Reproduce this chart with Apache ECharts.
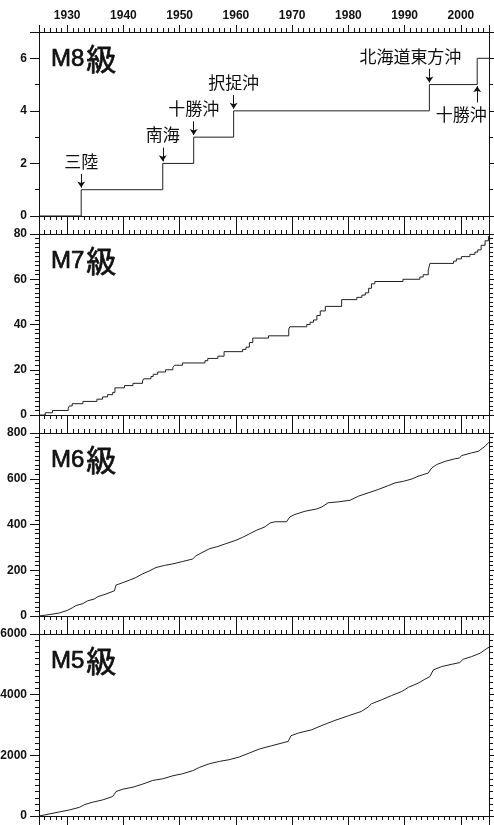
<!DOCTYPE html>
<html>
<head>
<meta charset="utf-8">
<script src="https://cdn.jsdelivr.net/npm/echarts@6/dist/echarts.min.js"></script>
<style>
html, body { margin: 0; background: #fff; }
#chart { width: 494px; height: 825px; }
</style>
</head>
<body>
<div id="chart"></div>
<script>
// year range of the x axis
const yearMin = 1925;
const yearMax = 2005;

// cumulative counts, [year, count]
const m8Steps = [[1925, 0], [1932.5, 1], [1947.0, 2], [1952.5, 3], [1959.6, 4], [1994.4, 5], [2002.9, 6], [2005, 6]];
const m7Steps = [
  [1925, 0], [1926.1, 1], [1927.4, 2], [1930.2, 3], [1930.4, 4], [1930.9, 5], [1932.8, 6], [1935.3, 7],
  [1936.3, 8], [1937.2, 9], [1938.1, 10], [1938.5, 12], [1940.2, 13], [1941.7, 14], [1943.4, 15], [1943.6, 16],
  [1944.9, 17], [1945.3, 18], [1946.1, 19], [1947.5, 20], [1948.8, 21], [1949.1, 22], [1950.5, 23], [1954.5, 24],
  [1955.0, 25], [1956.8, 26], [1957.9, 28], [1961.2, 29], [1961.8, 30], [1962.4, 32], [1963.0, 34], [1965.8, 35],
  [1969.4, 38], [1969.6, 39], [1972.6, 40], [1973.2, 41], [1973.8, 42], [1974.4, 44], [1975.0, 46], [1975.9, 48],
  [1978.8, 51], [1981.5, 52], [1982.4, 53], [1983.0, 54], [1983.6, 56], [1984.1, 58], [1984.7, 59], [1989.7, 60],
  [1992.7, 61], [1993.3, 62], [1994.2, 64], [1994.5, 67], [1998.7, 68], [1999.2, 69], [2000.1, 70], [2001.6, 71],
  [2002.5, 72], [2003.0, 73], [2003.6, 75], [2004.3, 77], [2004.9, 79], [2005, 79]
];
const m6Curve = [
  [1925, 0], [1926.8, 6], [1928.6, 13], [1930.1, 25], [1931.0, 37], [1931.6, 46], [1932.8, 54], [1933.6, 66],
  [1934.8, 74], [1935.4, 84], [1936.9, 96], [1938.4, 110], [1938.7, 135], [1939.9, 146], [1941.1, 157], [1942.2, 168],
  [1943.4, 184], [1944.6, 197], [1945.8, 212], [1947.3, 221], [1948.8, 228], [1950.5, 238], [1952.3, 249], [1952.9, 263],
  [1953.8, 275], [1955.3, 294], [1956.8, 304], [1958.2, 316], [1960.0, 331], [1961.2, 344], [1962.4, 359], [1963.6, 374],
  [1965.2, 390], [1966.1, 407], [1967.0, 412], [1969.0, 412], [1969.6, 433], [1970.5, 444], [1972.3, 458], [1974.4, 468],
  [1975.3, 477], [1976.4, 495], [1978.2, 499], [1980.3, 506], [1981.8, 524], [1983.5, 538], [1985.3, 553], [1987.1, 570],
  [1988.3, 582], [1989.8, 589], [1991.3, 599], [1992.4, 611], [1994.2, 625], [1994.8, 647], [1995.7, 662], [1997.2, 676],
  [1998.9, 687], [1999.8, 691], [2000.1, 701], [2001.9, 713], [2003.1, 720], [2004.3, 742], [2005, 760]
];
const m5Curve = [
  [1925, 0], [1926.8, 66], [1928.6, 133], [1930.4, 199], [1932.2, 287], [1933.1, 376], [1934.5, 453], [1936.3, 530],
  [1938.1, 641], [1938.7, 807], [1939.9, 884], [1941.7, 950], [1943.4, 1050], [1945.2, 1171], [1947.0, 1227], [1948.8, 1326],
  [1950.5, 1392], [1952.3, 1492], [1953.5, 1602], [1955.3, 1724], [1957.1, 1801], [1958.8, 1856], [1960.6, 1945], [1962.4, 2077],
  [1964.2, 2210], [1966.4, 2318], [1969.3, 2460], [1969.8, 2647], [1971.1, 2734], [1973.5, 2844], [1975.3, 2986], [1977.6, 3151],
  [1980.0, 3304], [1982.3, 3447], [1983.5, 3589], [1984.1, 3699], [1985.9, 3830], [1987.7, 3973], [1989.5, 4104], [1990.7, 4247],
  [1992.4, 4378], [1993.6, 4510], [1994.5, 4597], [1995.1, 4817], [1996.6, 4926], [1998.4, 5003], [1999.8, 5058], [2000.4, 5167],
  [2001.9, 5255], [2003.4, 5365], [2005, 5570]
];

// M8 events named in the top panel
const quakeNames = ['三陸', '南海', '十勝沖', '択捉沖', '北海道東方沖', '十勝沖'];
const quakeYears = [1932.5, 1947.0, 1952.5, 1959.6, 1994.4, 2002.9];
const quakeLevels = [1, 2, 3, 4, 5, 5];
const quakeBelow = [false, false, false, false, false, true];

// panels
const panelNames = ['M8', 'M7', 'M6', 'M5'];
const panelMax = [7, 80, 800, 6000];
const panelStep = [2, 20, 200, 2000];
const panelMinor = [2, 10, 10, 10];
const panelData = [m8Steps, m7Steps, m6Curve, m5Curve];
const panelStepped = [true, true, false, false];

const gridTops = [32, 234, 433, 634];
const gridHeights = [184, 181, 183, 182];

const black = '#111';
const tickFont = { fontFamily: 'Liberation Sans, Arial, sans-serif', fontWeight: 'bold', fontSize: 12, color: black };
const plain = v => String(v);

const chart = echarts.init(document.getElementById('chart'));

const grid = [], xAxis = [], yAxis = [], series = [], title = [];

panelNames.forEach((name, i) => {
  grid.push({ left: 39, right: 5, top: gridTops[i], height: gridHeights[i], outerBoundsMode: 'none' });

  ['bottom', 'top'].forEach(pos => {
    const showLabel = i === 0 && pos === 'top';
    xAxis.push({
      type: 'value', gridIndex: i, position: pos,
      min: yearMin, max: yearMax, splitNumber: 8,
      axisLine: { show: true, onZero: false, lineStyle: { color: black, width: 1 } },
      axisTick: { show: true, inside: false, length: (i === 0 && pos === 'top') ? 7 : 9, lineStyle: { color: black } },
      minorTick: { show: true, splitNumber: 10, length: 4, lineStyle: { color: black } },
      splitLine: { show: false },
      axisLabel: Object.assign({ show: showLabel, showMinLabel: false, showMaxLabel: false, margin: 10, formatter: plain }, tickFont)
    });
  });

  ['left', 'right'].forEach(pos => {
    yAxis.push({
      type: 'value', gridIndex: i, position: pos,
      min: 0, max: panelMax[i], interval: panelStep[i],
      axisLine: { show: true, onZero: false, lineStyle: { color: black, width: 1 } },
      axisTick: { show: true, inside: false, length: 9, lineStyle: { color: black } },
      minorTick: { show: true, splitNumber: panelMinor[i], length: 4, lineStyle: { color: black } },
      splitLine: { show: false },
      axisLabel: Object.assign({ show: pos === 'left', showMaxLabel: i !== 0, margin: 12, formatter: plain }, tickFont)
    });
  });

  // panel name, drawn a touch heavier than regular
  title.push({
    text: '{a|' + name + '}{b|級}',
    left: 51, top: gridTops[i] + 12, padding: 0,
    textStyle: {
      fontWeight: 'normal',
      rich: {
        a: { fontFamily: 'Liberation Sans, Arial, sans-serif', fontWeight: 'normal', fontSize: 24, color: black, lineHeight: 30,
             textBorderColor: black, textBorderWidth: 0.7 },
        b: { fontFamily: 'Noto Sans CJK JP', fontWeight: 'normal', fontSize: 30, color: black, lineHeight: 30, padding: [0, 0, 0, 2],
             textBorderColor: black, textBorderWidth: 0.7 }
      }
    }
  });

  const s = {
    type: 'line', xAxisIndex: 2 * i, yAxisIndex: 2 * i,
    data: panelData[i], showSymbol: false, silent: true,
    lineStyle: { color: '#222', width: 1 }
  };
  if (panelStepped[i]) s.step = 'end';
  series.push(s);
});

// arrows and names for the M8 events
series[0].markLine = {
  silent: true, symbol: ['none', 'arrow'], symbolSize: 6,
  label: { show: false },
  lineStyle: { color: black, width: 1, type: 'solid' },
  data: quakeYears.map((yr, k) => quakeBelow[k]
    ? [{ coord: [yr, quakeLevels[k] - 0.68] }, { coord: [yr, quakeLevels[k] - 0.06] }]
    : [{ coord: [yr, quakeLevels[k] + 0.6] }, { coord: [yr, quakeLevels[k] + 0.08] }])
};
series[0].markPoint = {
  silent: true, symbol: 'circle', symbolSize: 1,
  itemStyle: { color: 'rgba(0,0,0,0)' },
  label: { show: true, position: 'inside', fontFamily: 'Noto Sans CJK JP', fontSize: 17, color: black },
  data: quakeNames.map((nm, k) => ({
    coord: [quakeYears[k], quakeBelow[k] ? quakeLevels[k] - 1.14 : quakeLevels[k] + 1.08],
    label: { formatter: nm, offset: [k === 4 ? -19 : (k === 5 ? -16 : 0), 0] }
  }))
};

chart.setOption({
  animation: false,
  backgroundColor: '#fff',
  title, grid, xAxis, yAxis, series
});
</script>
</body>
</html>
